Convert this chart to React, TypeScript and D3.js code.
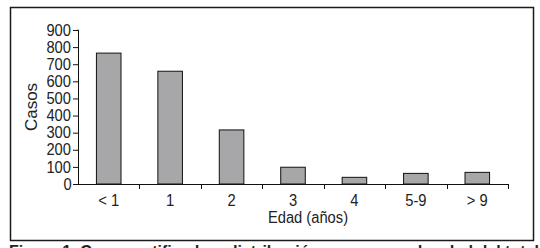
import React, { useEffect, useRef } from 'react';
import * as d3 from 'd3';

// Casos por grupo de edad
const categories = ['< 1', '1', '2', '3', '4', '5-9', '> 9'];
const casos = [765, 659, 316, 98, 39, 62, 68];
const yTicks = [0, 100, 200, 300, 400, 500, 600, 700, 800, 900];

const caption = 'Figura 1. Casos notificados: distribución por grupos de edad del total de';

function App() {
  const svgRef = useRef<SVGSVGElement>(null);

  useEffect(() => {
    const svg = d3.select(svgRef.current);
    svg.selectAll('*').remove();

    const font = '"Liberation Sans", Arial, sans-serif';
    const narrow = 'transform: scaleX(0.92); transform-box: fill-box; transform-origin: center;';
    const left = 78;
    const right = 508;
    const top = 30;
    const bottom = 184;

    // outer frame
    svg.append('rect')
      .attr('x', 10.5).attr('y', 7.5)
      .attr('width', 523).attr('height', 233)
      .attr('fill', 'none').attr('stroke', '#1a1a1a').attr('stroke-width', 1.5);

    const x = d3.scaleBand().domain(categories).range([left, right]).paddingInner(0.6).paddingOuter(0.3);
    const y = d3.scaleLinear().domain([0, 900]).range([bottom, top]);

    // bars
    svg.selectAll('.bar')
      .data(casos)
      .enter()
      .append('rect')
      .attr('x', (d, i) => x(categories[i])!)
      .attr('y', (d) => y(d))
      .attr('width', x.bandwidth())
      .attr('height', (d) => bottom - y(d))
      .attr('fill', '#a7a7aa')
      .attr('stroke', '#111')
      .attr('stroke-width', 1);

    // y axis
    const yAxis = svg.append('g')
      .attr('transform', `translate(${left},0)`)
      .call(d3.axisLeft(y).tickValues(yTicks).tickSize(5).tickPadding(1));
    yAxis.selectAll('path, line').attr('stroke', '#111');
    yAxis.select('.domain').attr('d', `M-0.5,${top}H0.5V${bottom}`);
    yAxis.selectAll('text')
      .attr('font-family', font).attr('font-size', 16).attr('fill', '#222')
      .attr('style', narrow);

    // x axis: ticks at band boundaries
    const step = x.step();
    const bounds = d3.range(categories.length + 1).map((i) => left + i * step);
    const xg = svg.append('g');
    xg.append('line')
      .attr('x1', left).attr('x2', right)
      .attr('y1', bottom + 0.5).attr('y2', bottom + 0.5)
      .attr('stroke', '#111');
    xg.selectAll('.xt')
      .data(bounds.slice(1))
      .enter()
      .append('line')
      .attr('x1', (d) => Math.round(d) + 0.5).attr('x2', (d) => Math.round(d) + 0.5)
      .attr('y1', bottom).attr('y2', bottom + 5)
      .attr('stroke', '#111');
    xg.selectAll('.xl')
      .data(categories)
      .enter()
      .append('text')
      .attr('x', (d) => x(d)! + x.bandwidth() / 2)
      .attr('y', 206)
      .attr('text-anchor', 'middle')
      .attr('font-family', font).attr('font-size', 16).attr('fill', '#222')
      .attr('style', narrow)
      .text((d) => d);

    // axis titles
    svg.append('text')
      .attr('x', 308).attr('y', 223)
      .attr('text-anchor', 'middle')
      .attr('font-family', font).attr('font-size', 16).attr('fill', '#222')
      .attr('style', narrow)
      .text('Edad (años)');
    svg.append('text')
      .attr('transform', `translate(37,${(top + bottom) / 2}) rotate(-90)`)
      .attr('text-anchor', 'middle')
      .attr('font-family', font).attr('font-size', 17).attr('fill', '#222')
      .text('Casos');

    // caption, cut by the picture's lower edge
    svg.append('text')
      .attr('x', 9).attr('y', 257)
      .attr('font-family', font).attr('font-size', 16).attr('font-weight', 'bold').attr('fill', '#222')
      .text(caption);
  }, []);

  return (
    <svg
      ref={svgRef}
      width={540}
      height={248}
      style={{ position: 'absolute', left: 0, top: 0, background: '#fff' }}
    ></svg>
  );
}

export default App;
